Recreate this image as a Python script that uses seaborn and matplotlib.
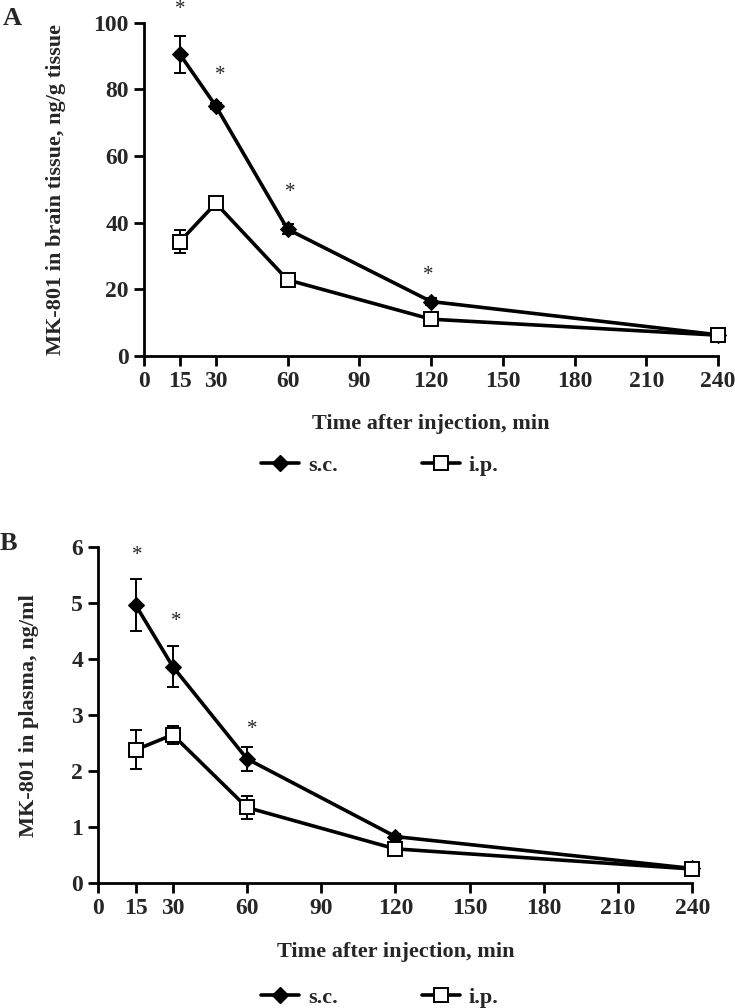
import matplotlib
matplotlib.use("Agg")
import matplotlib.pyplot as plt
import pandas as pd
import seaborn as sns
from matplotlib.lines import Line2D

# sampling times (min)
times = [15, 30, 60, 120, 240]
x_ticks = [0, 15, 30, 60, 90, 120, 150, 180, 210, 240]

# panel A: brain tissue, ng/g
brain_sc = [90.5, 75.0, 38.0, 16.3, 6.3]
brain_sc_err = [5.5, 1.0, 1.5, 1.0, 0.5]
brain_ip = [34.3, 45.8, 22.8, 11.0, 6.2]
brain_ip_err = [3.5, 1.0, 1.0, 0.8, 0.5]
brain_star_x = [15, 32, 61, 119]
brain_star_y = [104, 84, 49, 24]

# panel B: plasma, ng/ml
plasma_sc = [4.97, 3.87, 2.22, 0.83, 0.26]
plasma_sc_err = [0.46, 0.37, 0.21, 0.04, 0.03]
plasma_ip = [2.38, 2.65, 1.35, 0.61, 0.25]
plasma_ip_err = [0.35, 0.16, 0.20, 0.04, 0.03]
plasma_star_x = [15.5, 31.5, 62]
plasma_star_y = [5.85, 4.67, 2.74]

sns.set_style("ticks")
plt.rcParams["font.family"] = ["Liberation Serif", "DejaVu Serif"]
plt.rcParams["font.weight"] = "bold"
plt.rcParams["axes.labelweight"] = "bold"

LW = 2.6
SC_MARK = dict(marker="D", markersize=8.5, markerfacecolor="black",
               markeredgecolor="black")
IP_MARK = dict(marker="s", markersize=9.5, markerfacecolor="white",
               markeredgecolor="black", markeredgewidth=1.4)


def draw_panel(ax, sc, sc_err, ip, ip_err, star_x, star_y, ymax, ystep,
               ylabel, ypad):
    df = pd.DataFrame({"time": times, "sc": sc, "ip": ip})
    # error bars go under the markers
    for vals, errs in [(sc, sc_err), (ip, ip_err)]:
        ax.errorbar(times, vals, yerr=errs, fmt="none", ecolor="black",
                    elinewidth=1.4, capsize=4, capthick=1.4, zorder=2,
                    clip_on=False)
    sns.lineplot(data=df, x="time", y="sc", ax=ax, color="black", lw=LW,
                 zorder=3, clip_on=False, **SC_MARK)
    sns.lineplot(data=df, x="time", y="ip", ax=ax, color="black", lw=LW,
                 zorder=4, clip_on=False, **IP_MARK)
    for sx, sy in zip(star_x, star_y):
        ax.text(sx, sy, "*", ha="center", va="center", fontsize=15,
                fontweight="normal", clip_on=False)

    ax.set_xlim(0, 240)
    ax.set_ylim(0, ymax)
    ax.set_xticks(x_ticks)
    ax.set_yticks(range(0, int(ymax) + 1, ystep))
    ax.set_xlabel("Time after injection, min", fontsize=16, labelpad=16)
    ax.set_ylabel(ylabel, fontsize=16, labelpad=ypad)
    ax.tick_params(axis="both", direction="out", length=7, width=2,
                   labelsize=17, color="black", pad=4)
    for lab in ax.get_xticklabels() + ax.get_yticklabels():
        lab.set_fontweight("bold")
    sns.despine(ax=ax)
    for side in ["left", "bottom"]:
        ax.spines[side].set_linewidth(2)
        ax.spines[side].set_color("black")


fig = plt.figure(figsize=(7.35, 10.08), dpi=100)
ax_a = fig.add_axes([0.196, 0.647, 0.781, 0.3305])
ax_b = fig.add_axes([0.134, 0.124, 0.808, 0.333])

draw_panel(ax_a, brain_sc, brain_sc_err, brain_ip, brain_ip_err,
           brain_star_x, brain_star_y, 100, 20,
           "MK-801 in brain tissue, ng/g tissue", 20)
draw_panel(ax_b, plasma_sc, plasma_sc_err, plasma_ip, plasma_ip_err,
           plasma_star_x, plasma_star_y, 6, 1,
           "MK-801 in plasma, ng/ml", 23)

handles = [
    Line2D([], [], color="black", lw=LW, **SC_MARK),
    Line2D([], [], color="black", lw=LW, **IP_MARK),
]
for y in [0.538, 0.010]:
    fig.legend(handles, ["s.c.", "i.p."], loc="center", ncol=2,
               bbox_to_anchor=(0.517, y), frameon=False, fontsize=16,
               handlelength=1.7, columnspacing=3.8, handletextpad=0.4)

fig.text(0.004, 0.982, "A", fontsize=19, fontweight="bold", va="center")
fig.text(0.0, 0.461, "B", fontsize=19, fontweight="bold", va="center")

fig.savefig("out.png", dpi=100)
